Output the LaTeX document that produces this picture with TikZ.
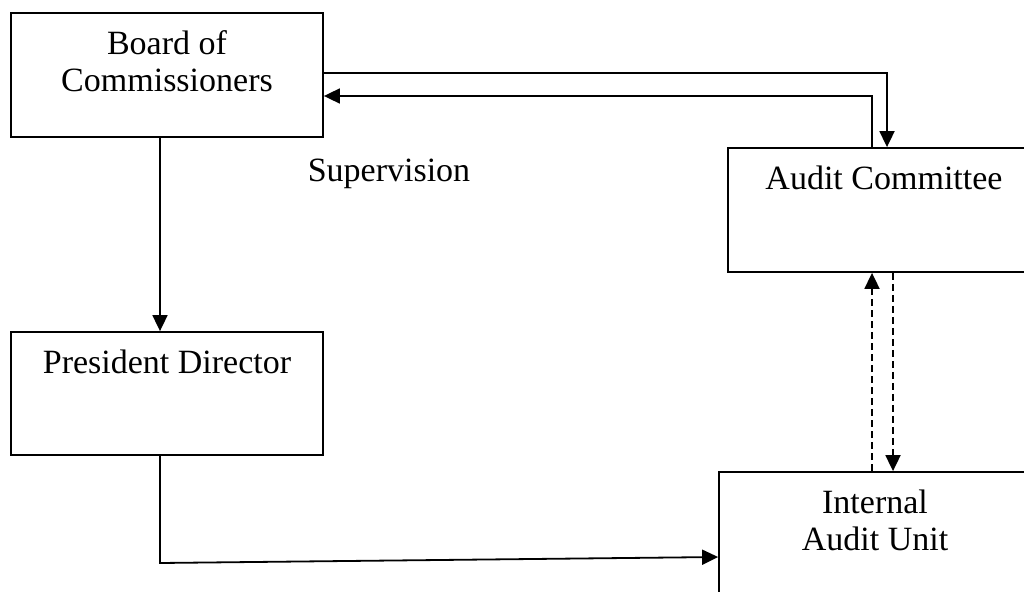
\documentclass[tikz,border=0pt]{standalone}
\usepackage{fontspec}
\setmainfont{Liberation Serif}
\usetikzlibrary{arrows.meta,calc}
\begin{document}
\begin{tikzpicture}[x=1pt,y=-1pt,
  box/.style={draw,line width=1.8pt,inner sep=0pt},
  lbl/.style={inner sep=0pt,anchor=base,font=\fontsize{34}{37}\selectfont},
  arr/.style={line width=1.8pt,-{Triangle[width=15pt,length=16pt]}},
  darr/.style={line width=1.8pt,dash pattern=on 7pt off 4pt,-{Triangle[width=15pt,length=16pt]}}]
\useasboundingbox (0,0) rectangle (1024,591);
\clip (0,0) rectangle (1024,591);
% boxes
\node[box,minimum width=312pt,minimum height=124pt] (bc) at (167,75) {};
\node[box,minimum width=312pt,minimum height=123pt] (pd) at (167,393.5) {};
\node[box,minimum width=312pt,minimum height=124pt] (ac) at (884,210) {};
\node[box,minimum width=330pt,minimum height=140pt] (iau) at (884,542) {};
% texts
\node[lbl] (t1) at (167,55) {Board of};
\node[lbl] (t2) at (167,92) {Commissioners};
\node[lbl] (t3) at (167,373) {President Director};
\node[lbl] (t4) at (884,189) {Audit Committee};
\node[lbl] (t5) at (875,513) {Internal};
\node[lbl] (t6) at (875,550) {Audit Unit};
\node[lbl] (sup) at (389,181) {Supervision};
% helper coordinates
\coordinate (ya) at (0,73);
\coordinate (yb) at (0,96);
\coordinate (xa) at (887,0);
\coordinate (xb) at (872,0);
\coordinate (xc) at (893,0);
\coordinate (xp) at (160,0);
\coordinate (bend) at (160,563);
\coordinate (yi) at (0,557);
% connectors
\draw[arr] (bc.east |- ya) -| (ac.north -| xa);
\draw[arr] (ac.north -| xb) |- (bc.east |- yb);
\draw[arr] (bc.south -| xp) -- (pd.north -| xp);
\draw[arr] (pd.south -| xp) -- (bend) -- (iau.west |- yi);
\draw[darr] (iau.north -| xb) -- (ac.south -| xb);
\draw[darr] (ac.south -| xc) -- (iau.north -| xc);
\end{tikzpicture}
\end{document}
